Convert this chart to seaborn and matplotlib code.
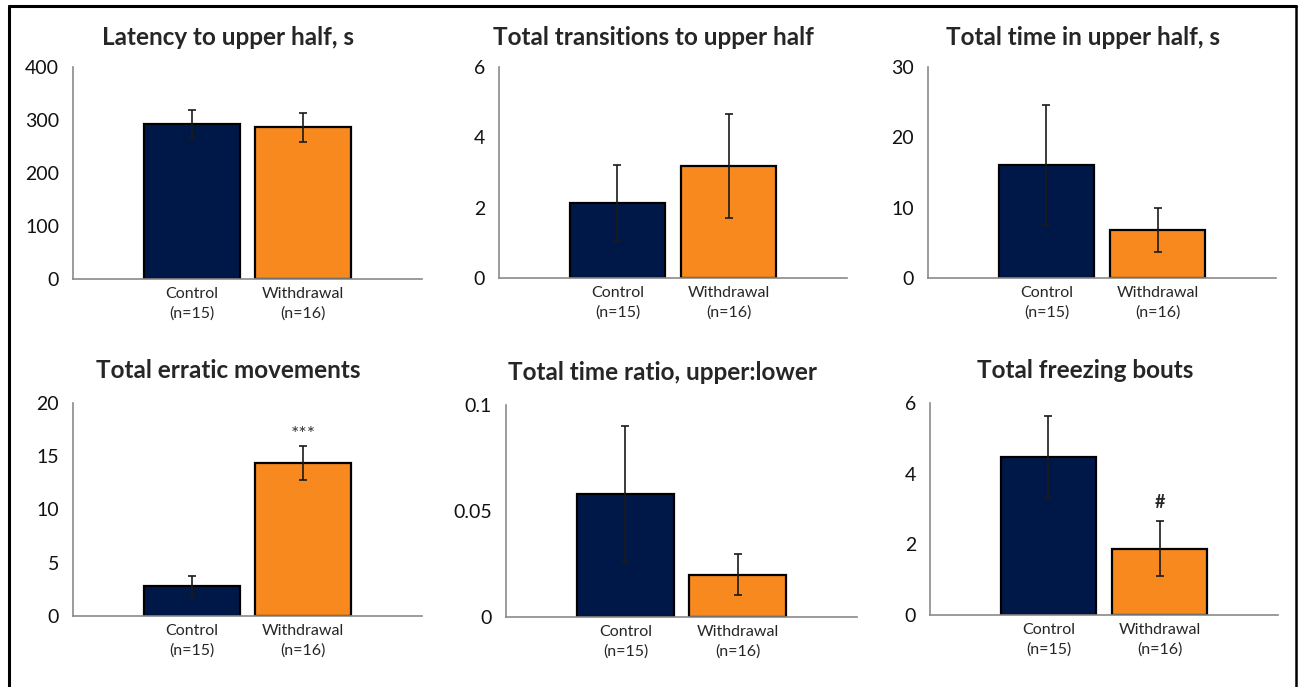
import numpy as np
import pandas as pd
import matplotlib
matplotlib.use("Agg")
import matplotlib.pyplot as plt
from matplotlib.lines import Line2D
import seaborn as sns

# data (mean and SEM half-width)
groups = ["Control\n(n=15)", "Withdrawal\n(n=16)"]
titles = ["Latency to upper half, s", "Total transitions to upper half",
          "Total time in upper half, s", "Total erratic movements",
          "Total time ratio, upper:lower", "Total freezing bouts"]
latency = [292, 286]
latency_err = [27, 27]
transitions = [2.13, 3.18]
transitions_err = [1.07, 1.47]
time_upper = [16.1, 6.8]
time_upper_err = [8.5, 3.15]
erratic = [2.8, 14.4]
erratic_err = [1.0, 1.6]
ratio = [0.058, 0.020]
ratio_err = [0.032, 0.0097]
freezing = [4.46, 1.87]
freezing_err = [1.16, 0.78]

means = [latency, transitions, time_upper, erratic, ratio, freezing]
errs = [latency_err, transitions_err, time_upper_err, erratic_err, ratio_err, freezing_err]
yticks = [[0, 100, 200, 300, 400], [0, 2, 4, 6], [0, 10, 20, 30],
          [0, 5, 10, 15, 20], [0, 0.05, 0.1], [0, 2, 4, 6]]
ytick_labels = [["0", "100", "200", "300", "400"], ["0", "2", "4", "6"], ["0", "10", "20", "30"],
                ["0", "5", "10", "15", "20"], ["0", "0.05", "0.1"], ["0", "2", "4", "6"]]
marks = [None, None, None, ("***", 1, 17.0), None, ("#", 1, 3.17)]

palette = {groups[0]: "#001848", groups[1]: "#F7891F"}

sns.set_style("white")
plt.rcParams["font.family"] = ["Lato", "DejaVu Sans"]

W, H = 1299, 687
fig = plt.figure(figsize=(W / 100, H / 100), dpi=100)

# axes boxes in pixels: left, right, top, bottom
boxes = [(73, 422, 67, 279), (499, 847, 67, 278), (928, 1276, 67, 278),
         (73, 422, 403, 616), (506, 857, 405, 617), (930, 1278, 403, 615)]
title_pads = [16, 16, 16, 18, 18, 18]

for i in range(6):
    l, r, t, b = boxes[i]
    ax = fig.add_axes([l / W, 1 - b / H, (r - l) / W, (b - t) / H])
    df = pd.DataFrame({"group": groups, "value": means[i]})
    sns.barplot(data=df, x="group", y="value", hue="group", palette=palette,
                width=0.86, edgecolor="black", linewidth=1.6, saturation=1,
                legend=False, ax=ax)
    ax.errorbar([0, 1], means[i], yerr=errs[i], fmt="none", ecolor="#1a1a1a",
                elinewidth=1.2, capsize=3, capthick=1.2)
    ax.set_xlim(-1.065, 2.065)
    ax.set_ylim(yticks[i][0], yticks[i][-1])
    ax.set_yticks(yticks[i])
    ax.set_yticklabels(ytick_labels[i], fontsize=14, color="#111111")
    for lab in ax.get_xticklabels():
        lab.set_linespacing(1.45)
    ax.set_xlabel("")
    ax.set_ylabel("")
    ax.tick_params(axis="x", length=0, labelsize=11.5, labelcolor="#262626", pad=6)
    ax.tick_params(axis="y", length=5, width=1.1, color="#8a8a8a", pad=5, direction="out")
    for s in ["top", "right"]:
        ax.spines[s].set_visible(False)
    for s in ["left", "bottom"]:
        ax.spines[s].set_color("#8a8a8a")
        ax.spines[s].set_linewidth(1.2)
    ax.set_title(titles[i], x=0.445, pad=title_pads[i], fontsize=17.5, fontweight="bold")
    if marks[i] is not None:
        txt, xm, ym = marks[i]
        if txt == "#":
            ax.text(xm, ym, txt, ha="center", va="center", fontsize=13, fontweight="bold")
        else:
            ax.text(xm, ym, txt, ha="center", va="center", fontsize=14, color="#333333")

# outer frame (left, top, right)
fig.add_artist(Line2D([9 / W, 9 / W], [0, 1 - 6 / H], color="black", lw=2.2, transform=fig.transFigure))
fig.add_artist(Line2D([9 / W, 1296 / W], [1 - 6 / H, 1 - 6 / H], color="black", lw=2.2, transform=fig.transFigure))
fig.add_artist(Line2D([1296 / W, 1296 / W], [0, 1 - 6 / H], color="black", lw=1.8, transform=fig.transFigure))

fig.savefig("out.png", dpi=100)
